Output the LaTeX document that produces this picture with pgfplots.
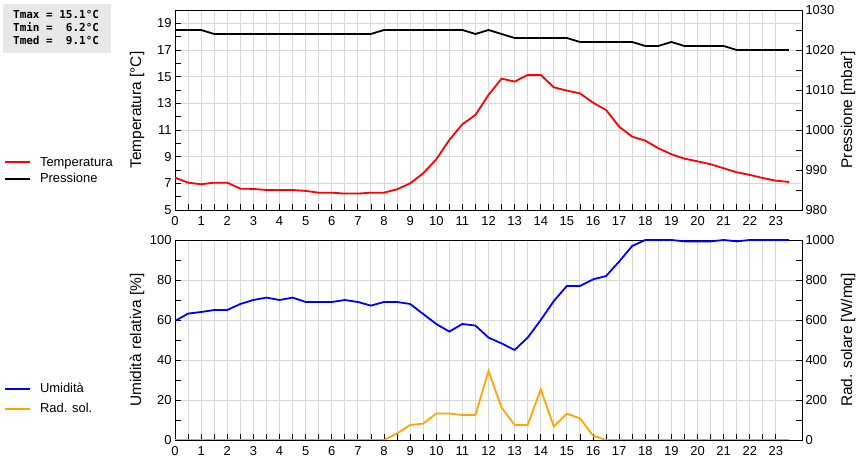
\documentclass[border=0pt]{standalone}
\usepackage{fontspec}
\setmainfont{Liberation Sans}
\setmonofont{DejaVu Sans Mono}
\usepackage{pgfplots}
\usepackage{pgfplotstable}
\pgfplotsset{compat=1.18}

\definecolor{gridgray}{RGB}{216,216,216}
\definecolor{boxgray}{RGB}{232,232,232}
\definecolor{radorange}{RGB}{255,165,0}

% ora, temperatura, pressione, umidita, radiazione
\pgfplotstableread{
h     T      P     U     R
0     7.43   1025  59.5  0
0.5   7.05   1025  63.2  0
1     6.93   1025  64    0
1.5   7.05   1024  65    0
2     7.05   1024  65    0
2.5   6.60   1024  68    0
3     6.58   1024  70    0
3.5   6.50   1024  71.2  0
4     6.50   1024  70    0
4.5   6.50   1024  71.2  0
5     6.43   1024  69    0
5.5   6.30   1024  69    0
6     6.30   1024  69    0
6.5   6.23   1024  70    0
7     6.23   1024  69    0
7.5   6.30   1024  67.2  0
8     6.30   1025  69    0
8.5   6.55   1025  69    33
9     7.00   1025  68    75
9.5   7.75   1025  63    82
10    8.80   1025  58    132
10.5  10.25  1025  54.2  132
11    11.43  1025  58    125
11.5  12.13  1024  57.2  125
12    13.63  1025  51.2  345
12.5  14.85  1024  48.3  162
13    14.63  1023  45    75
13.5  15.13  1023  51.2  75
14    15.13  1023  60    253
14.5  14.20  1023  69.5  67
15    13.95  1023  77    132
15.5  13.75  1022  77    108
16    13.05  1022  80.3  22
16.5  12.50  1022  82    0
17    11.25  1022  89.2  0
17.5  10.50  1022  97    0
18    10.20  1021  100   0
18.5  9.63   1021  100   0
19    9.18   1022  100   0
19.5  8.85   1021  99.3  0
20    8.65   1021  99.3  0
20.5  8.43   1021  99.3  0
21    8.13   1021  100   0
21.5  7.83   1020  99.3  0
22    7.63   1020  100   0
22.5  7.40   1020  100   0
23    7.20   1020  100   0
23.5  7.10   1020  100   0
}\meteo

\pgfplotsset{
  meteo/.style={
    scale only axis, width=627bp, height=200bp,
    xmin=0, xmax=24, xtick={0,...,23}, minor x tick num=1,
    tick align=inside, major tick length=6bp, minor tick length=6bp,
    ticklabel style={font=\fontsize{13}{15}\selectfont},
    xticklabel style={yshift=-3bp},
    label style={font=\fontsize{15.5}{17}\selectfont},
    /pgf/number format/assume math mode=true,
    /pgf/number format/1000 sep={},
    axis line style={line width=0.9bp},
    every tick/.style={black, line width=0.8bp},
    grid style={gridgray, line width=0.9bp},
    every axis plot/.append style={line width=1.8bp},
  },
  sx/.style={meteo, xtick pos=bottom, ytick pos=left,
    xmajorgrids, xminorgrids, ymajorgrids,
    ylabel style={at={(rel axis cs:-0.0606,0.5)}, anchor=center},
    legend cell align=left,
    legend style={draw=none, fill=none, inner sep=0pt, column sep=8bp,
      nodes={inner sep=1bp, font=\fontsize{13}{15}\selectfont}},
    legend image code/.code={\draw[#1] (0bp,0bp) -- (25bp,0bp);},
  },
  dx/.style={meteo, axis x line=none, axis y line*=right, ytick pos=right,
    ylabel style={at={(rel axis cs:1.0734,0.5)}, anchor=center},
  },
}

\begin{document}
\begin{tikzpicture}[x=1bp, y=1bp]
\useasboundingbox (0,0) rectangle (860,460);

% riquadro con i valori riassuntivi
\fill[boxgray] (3,407) rectangle (111,456);
\node[anchor=north west, inner sep=0pt, align=left,
  font=\fontsize{11}{13.3}\selectfont\ttfamily\bfseries] at (13,450)
  {Tmax = 15.1°C\\Tmin = \phantom{1}6.2°C\\Tmed = \phantom{1}9.1°C};

% temperatura / pressione
\begin{axis}[sx, at={(175bp,250bp)}, anchor=south west,
  ymin=5, ymax=20, ytick={5,7,...,19}, minor y tick num=1,
  ylabel={Temperatura [°C]},
  legend style={at={(rel axis cs:-0.2727,0.196)}, anchor=west, row sep=4bp}]
  \addplot[red, line width=1.8bp] table[x=h, y=T] {\meteo};
  \addlegendentry{Temperatura}
  \addlegendimage{black, line width=1.8bp}
  \addlegendentry{Pressione}
\end{axis}
\begin{axis}[dx, at={(175bp,250bp)}, anchor=south west,
  ymin=980, ymax=1030, ytick distance=10, minor y tick num=1,
  ylabel={Pressione [mbar]}]
  \addplot[black, line width=1.8bp] table[x=h, y=P] {\meteo};
\end{axis}

% umidita / radiazione solare
\begin{axis}[sx, at={(175bp,20bp)}, anchor=south west,
  ymin=0, ymax=100, ytick distance=20, minor y tick num=1,
  ylabel={Umidità relativa [\%]},
  legend style={at={(rel axis cs:-0.2727,0.2065)}, anchor=west, row sep=7bp}]
  \addplot[blue, line width=1.8bp] table[x=h, y=U] {\meteo};
  \addlegendentry{Umidità}
  \addlegendimage{radorange, line width=1.8bp}
  \addlegendentry{Rad. sol.}
\end{axis}
\begin{axis}[dx, at={(175bp,20bp)}, anchor=south west,
  ymin=0, ymax=1000, ytick distance=200, minor y tick num=1,
  ylabel={Rad. solare [W/mq]}]
  \addplot[radorange, line width=1.8bp] table[x=h, y=R] {\meteo};
\end{axis}
\end{tikzpicture}
\end{document}
